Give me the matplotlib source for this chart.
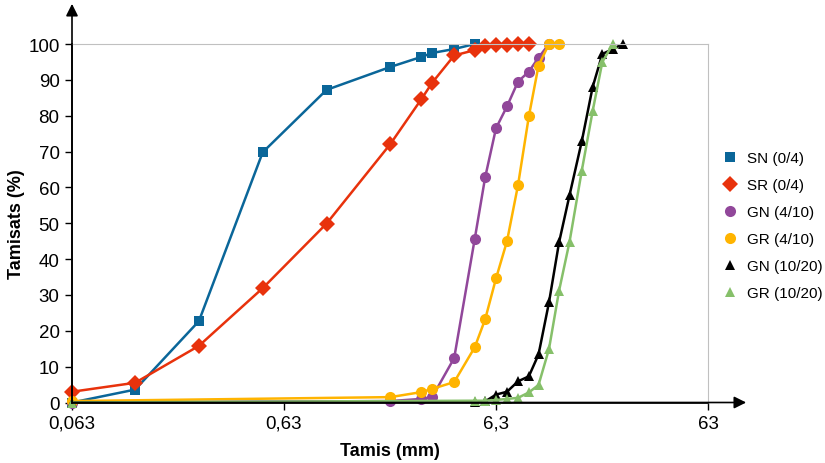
import matplotlib.pyplot as plt
from matplotlib.lines import Line2D

plt.rcParams['font.family'] = ['Liberation Sans', 'DejaVu Sans']

# tamis (mm) et tamisats (%)
sn_x = [0.063, 0.125, 0.25, 0.5, 1, 2, 2.8, 3.15, 4, 5]
sn_y = [0, 3.6, 22.7, 69.8, 87.2, 93.6, 96.4, 97.5, 98.6, 100]

sr_x = [0.063, 0.125, 0.25, 0.5, 1, 2, 2.8, 3.15, 4, 5, 5.6, 6.3, 7.1, 8, 9]
sr_y = [3.0, 5.5, 15.8, 31.9, 49.9, 72.1, 84.6, 89.2, 96.8, 98.3, 99.5, 99.6, 99.8, 100, 100]

gn4_x = [0.063, 2, 2.8, 3.15, 4, 5, 5.6, 6.3, 7.1, 8, 9, 10, 11.2]
gn4_y = [0, 0.4, 1, 1.5, 12.4, 45.6, 62.8, 76.5, 82.6, 89.5, 92.3, 96.2, 100]

gr4_x = [0.063, 2, 2.8, 3.15, 4, 5, 5.6, 6.3, 7.1, 8, 9, 10, 11.2, 12.5]
gr4_y = [0.4, 1.5, 2.9, 3.8, 5.7, 15.4, 23.2, 34.6, 45, 60.6, 79.8, 94, 100, 100]

gn10_x = [0.063, 5, 5.6, 6.3, 7.1, 8, 9, 10, 11.2, 12.5, 14, 16, 18, 20, 22.4, 25]
gn10_y = [0, 0.2, 0.3, 2.2, 3, 5.9, 7.3, 13.4, 27.9, 44.7, 57.8, 72.9, 88, 97.2, 98.6, 100]

gr10_x = [0.063, 5, 5.6, 6.3, 7.1, 8, 9, 10, 11.2, 12.5, 14, 16, 18, 20, 22.4]
gr10_y = [0, 0.5, 0.5, 0.7, 1, 1.3, 2.8, 4.9, 14.9, 31.2, 44.8, 64.7, 81.3, 95, 100]

x_ticks = [0.063, 0.63, 6.3, 63]
x_labels = ['0,063', '0,63', '6,3', '63']
y_ticks = list(range(0, 101, 10))

series = [
    ('SN (0/4)', sn_x, sn_y, '#0A6699', 's', 7),
    ('SR (0/4)', sr_x, sr_y, '#E8320C', 'D', 8),
    ('GN (4/10)', gn4_x, gn4_y, '#91479A', 'o', 8),
    ('GR (4/10)', gr4_x, gr4_y, '#FFB400', 'o', 8),
    ('GN (10/20)', gn10_x, gn10_y, '#000000', '^', 6.5),
    ('GR (10/20)', gr10_x, gr10_y, '#86C06A', '^', 6.5),
]

fig = plt.figure(figsize=(8.25, 4.64), dpi=100)
ax = fig.add_axes([72 / 825, 1 - 403.5 / 464, 636 / 825, 358.5 / 464])

handles = []
for name, xs, ys, col, mk, ms in series:
    ax.plot(xs, ys, color=col, lw=1.8, marker=mk, markersize=ms,
            markeredgewidth=0, clip_on=False)
    handles.append(Line2D([], [], color=col, marker=mk, linestyle='none',
                          markersize=ms, markeredgewidth=0, label=name))

ax.set_xscale('log')
ax.set_xlim(0.063, 63)
ax.set_ylim(0, 100)
ax.set_xticks(x_ticks)
ax.set_xticklabels(x_labels)
ax.xaxis.set_minor_locator(plt.NullLocator())
ax.set_yticks(y_ticks)
ax.tick_params(labelsize=13.5, length=5, width=1, color='black', pad=4)

ax.spines['top'].set_color('#C0C0C0')
ax.spines['right'].set_color('#C0C0C0')
ax.spines['left'].set_linewidth(1.2)
ax.spines['bottom'].set_linewidth(1.2)

ax.annotate('', xy=(1.06, 0), xytext=(0, 0), xycoords='axes fraction',
            arrowprops=dict(arrowstyle='-|>', color='black', lw=1.2,
                            mutation_scale=18, shrinkA=0, shrinkB=0))
ax.annotate('', xy=(0, 1.112), xytext=(0, 0), xycoords='axes fraction',
            arrowprops=dict(arrowstyle='-|>', color='black', lw=1.2,
                            mutation_scale=18, shrinkA=0, shrinkB=0))

ax.set_xlabel('Tamis (mm)', fontsize=13, fontweight='bold', labelpad=7)
ax.set_ylabel('Tamisats (%)', fontsize=13, fontweight='bold', labelpad=2)

fig.legend(handles=handles, loc='upper left', bbox_to_anchor=(717 / 825, 1 - 146 / 464),
           frameon=False, fontsize=11, handlelength=0.9, handletextpad=0.65,
           labelspacing=0.85, borderaxespad=0)

fig.savefig('out.png', dpi=100)
